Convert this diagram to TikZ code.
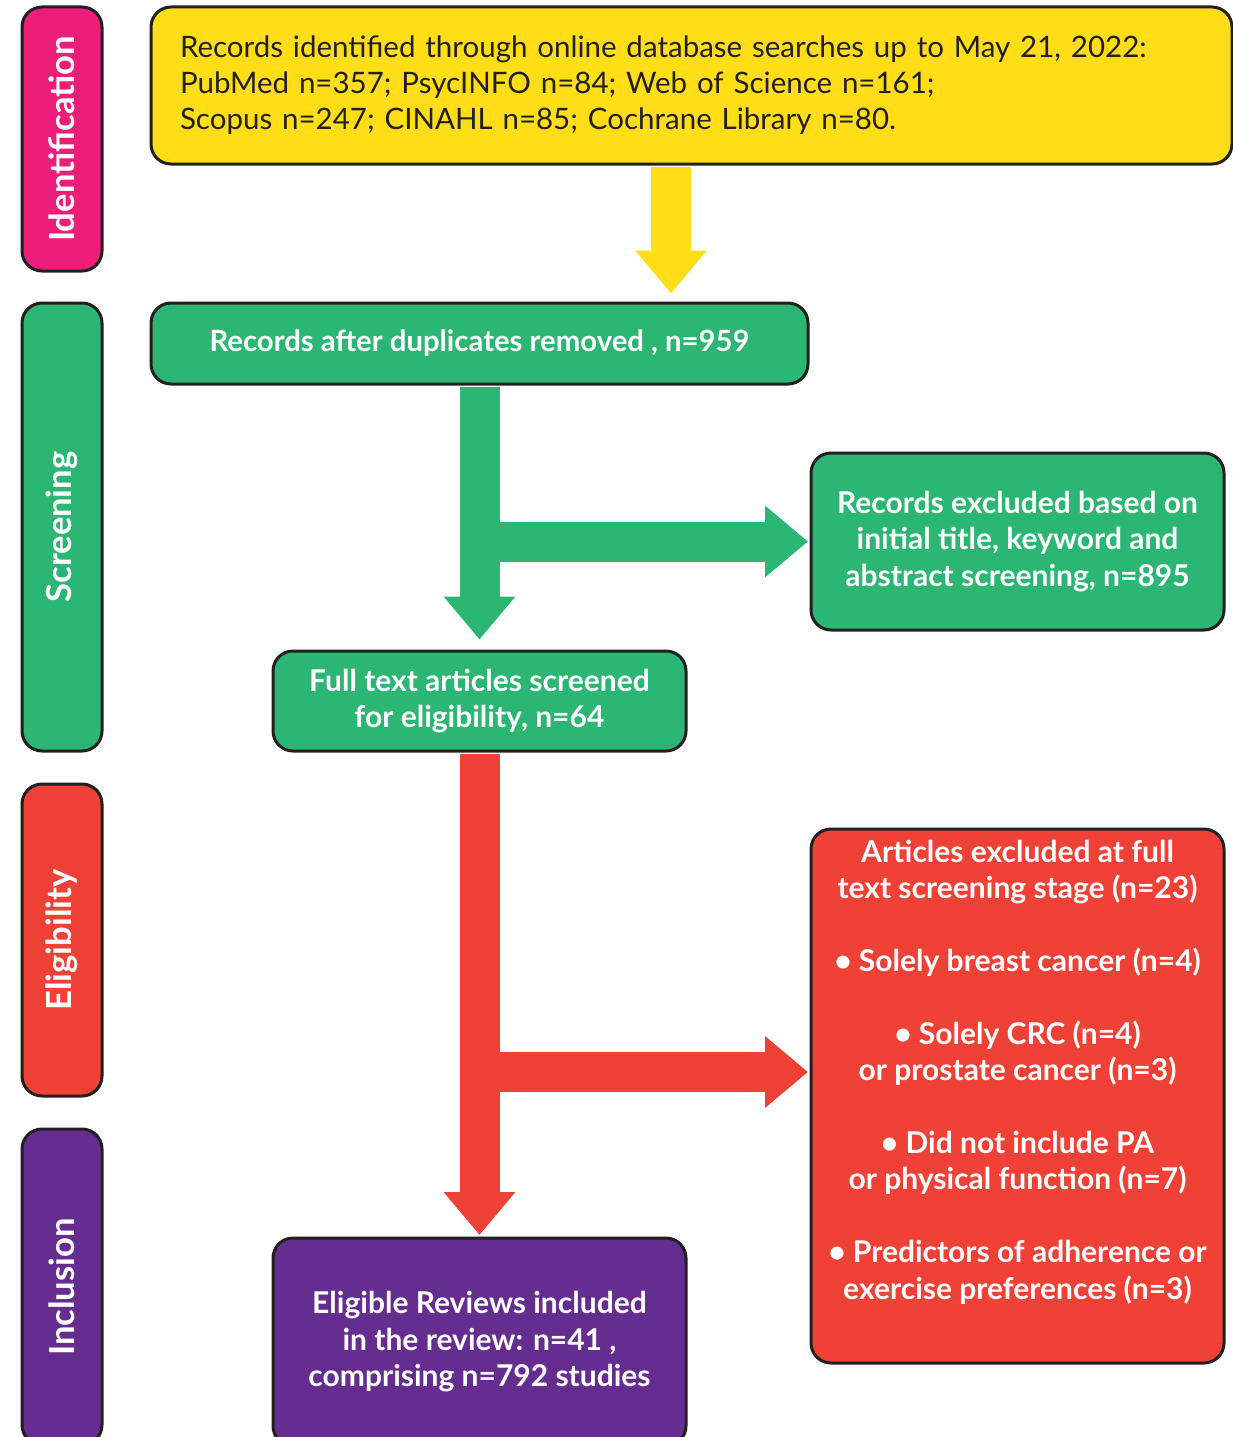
\documentclass[tikz,border=0pt]{standalone}
\usepackage{fontspec}
\setmainfont{Lato}
\usetikzlibrary{arrows.meta}
\definecolor{identpink}{HTML}{ED1E79}
\definecolor{screengreen}{HTML}{2CB673}
\definecolor{eligred}{HTML}{EF4136}
\definecolor{inclpurple}{HTML}{662D91}
\definecolor{recyellow}{HTML}{FFDE17}
\definecolor{edge}{HTML}{231F20}
\begin{document}
\begin{tikzpicture}[x=1pt,y=-1pt,
    box/.style={draw=edge,line width=3pt,rounded corners=20pt,inner sep=0pt,align=center,
      text=white,font=\fontsize{30}{36.5}\selectfont\bfseries},
    side/.style={box,rotate=90,minimum height=80pt,font=\fontsize{34.6}{40}\selectfont\bfseries},
    flow/.style={line width=40pt,-{Triangle[width=69pt,length=43pt]}}]
    \useasboundingbox (0,0) rectangle (1233,1437);
    \clip (0,0) rectangle (1233,1437);
    % stage labels
    \node[side,fill=identpink,minimum width=264pt] (sideid) at (62,139) {Identification};
    \node[side,fill=screengreen,minimum width=448pt] (sidescr) at (62,527) {Screening};
    \node[side,fill=eligred,minimum width=312pt] (sideelig) at (62,940) {Eligibility};
    \node[side,fill=inclpurple,minimum width=316pt] (sideincl) at (62,1287) {Inclusion};
    % flow boxes
    \node[box,fill=recyellow,text=edge,font=\fontsize{29.5}{36}\selectfont,align=left,
      minimum width=1081pt,minimum height=157pt,text width=1023pt] (records) at (691.5,85.5)
      {Records identified through online database searches up to May 21, 2022:\\
       PubMed n=357; PsycINFO n=84; Web of Science n=161;\\
       Scopus n=247; CINAHL n=85; Cochrane Library n=80.};
    \node[box,fill=screengreen,minimum width=657pt,minimum height=81pt,
      font=\fontsize{29.3}{36}\selectfont\bfseries] (dedup) at (479.5,343.5)
      {Records after duplicates removed , n=959};
    \node[box,fill=screengreen,minimum width=413pt,minimum height=177pt] (excl) at (1017.5,541.5)
      {Records excluded based on\\initial title, keyword and\\abstract screening, n=895};
    \node[box,fill=screengreen,minimum width=413pt,minimum height=100pt] (fulltext) at (479.5,701)
      {Full text articles screened\\for eligibility, n=64};
    \node[box,fill=eligred,minimum width=413pt,minimum height=534pt] (exbox) at (1017.5,1096) {};
    \node[align=center,text=white,font=\fontsize{30}{36.4}\selectfont\bfseries] (exart) at (1017.5,1072)
      {Articles excluded at full\\text screening stage (n=23)\\[36.4pt]
       • Solely breast cancer (n=4)\\[36.4pt]
       • Solely CRC (n=4)\\or prostate cancer (n=3)\\[36.4pt]
       • Did not include PA\\or physical function (n=7)\\[36.4pt]
       • Predictors of adherence or\\exercise preferences (n=3)};
    \node[box,fill=inclpurple,minimum width=413pt,minimum height=208pt] (incl) at (479.5,1342)
      {Eligible Reviews included\\in the review: n=41 ,\\comprising n=792 studies};
    % arrows
    \coordinate (yx) at (671,0);
    \draw[flow,recyellow,shorten <=1.5pt,shorten >=8pt] (records.south -| yx) -- (dedup.north -| yx);
    \draw[flow,screengreen,shorten <=1.5pt,shorten >=10pt] (dedup.south) -- (fulltext.north);
    \draw[flow,screengreen,shorten >=1.5pt] (dedup.south |- excl.west) -- (excl.west);
    \draw[flow,eligred,shorten <=1.5pt,shorten >=1.5pt] (fulltext.south) -- (incl.north);
    \draw[flow,eligred,shorten >=1.5pt] (fulltext.south |- exart) -- (exart -| exbox.west);
\end{tikzpicture}
\end{document}
